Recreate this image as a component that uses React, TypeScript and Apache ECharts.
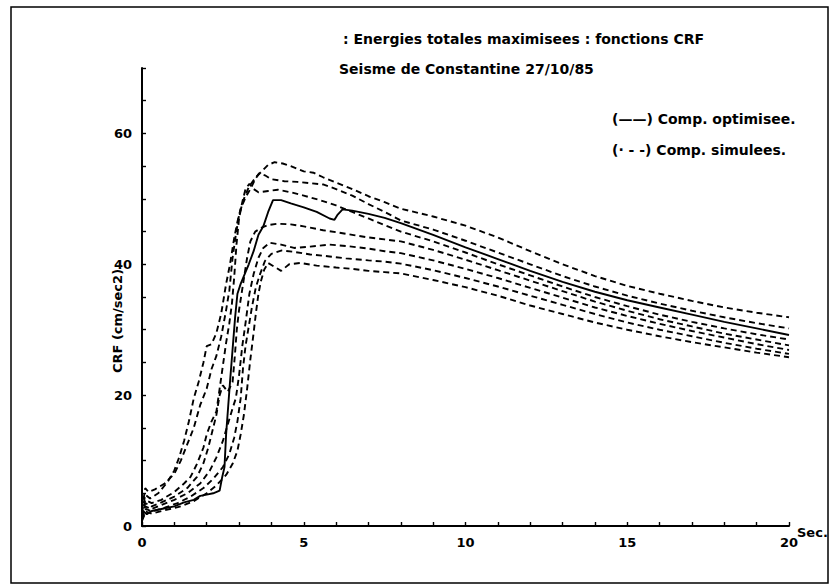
import React, { useEffect, useRef } from "react";
import * as echarts from "echarts";

type Pt = [number, number];

// Period (s) / CRF (cm/sec2) for the optimised component
const optimisee: Pt[] = [
  [0, 1.0], [0.05, 2.2], [0.15, 1.8], [0.3, 2.3], [0.6, 2.6], [1.0, 3.0], [1.3, 3.6], [1.6, 4.0],
  [1.8, 4.6], [2.0, 4.8], [2.2, 5.0], [2.4, 5.4], [2.48, 7.5], [2.55, 9.0], [2.6, 14], [2.66, 18],
  [2.72, 22], [2.8, 27], [2.88, 32], [2.95, 35.5], [3.05, 37], [3.2, 38.8], [3.3, 40], [3.45, 42],
  [3.6, 44.5], [3.75, 45.8], [3.9, 48], [4.05, 49.8], [4.3, 49.8], [4.6, 49.3], [5.0, 48.7],
  [5.4, 48.0], [5.8, 47.0], [5.95, 46.8], [6.05, 47.6], [6.2, 48.4], [6.5, 48.2], [7.0, 47.7],
  [7.5, 47.1], [8, 46.3], [9, 44.5], [10, 42.6], [11, 40.8], [12, 39.0], [13, 37.3], [14, 35.8],
  [15, 34.5], [16, 33.4], [17, 32.3], [18, 31.2], [19, 30.2], [20, 29.2],
];

// Simulated components
const simulee1: Pt[] = [
  [0, 2.5], [0.1, 5.8], [0.2, 5.2], [0.4, 5.6], [0.7, 6.5], [1.0, 8.0], [1.2, 10], [1.4, 12.5],
  [1.6, 15], [1.8, 18.5], [2.0, 21], [2.15, 24], [2.3, 26], [2.45, 29], [2.6, 33], [2.7, 36],
  [2.8, 41], [2.9, 44.5], [3.0, 47.5], [3.15, 50], [3.3, 51.8], [3.5, 53.2], [3.7, 54.2],
  [3.9, 55.2], [4.1, 55.6], [4.35, 55.4], [4.6, 55.0], [5.0, 54.2], [5.3, 54.0], [5.6, 53.3],
  [6.0, 52.5], [6.5, 51.5], [7.0, 50.4], [7.5, 49.5], [8, 48.5], [9, 47.3], [10, 45.9], [11, 44.1],
  [12, 42.0], [13, 40.0], [14, 38.2], [15, 36.7], [16, 35.5], [17, 34.4], [18, 33.4], [19, 32.6],
  [20, 31.9],
];

const simulee2: Pt[] = [
  [0, 2], [0.1, 4.8], [0.25, 4.2], [0.5, 5.0], [0.8, 6.8], [1.0, 8.5], [1.15, 10.5], [1.3, 13],
  [1.45, 16], [1.6, 19.5], [1.75, 22], [1.9, 25], [2.0, 27.5], [2.15, 27.8], [2.3, 29.5],
  [2.45, 32.5], [2.6, 37], [2.72, 40], [2.85, 44], [2.95, 46.5], [3.05, 48.5], [3.2, 50.2],
  [3.35, 51.5], [3.5, 53], [3.62, 53.9], [3.8, 53.6], [4.0, 53.0], [4.4, 52.7], [4.8, 52.6],
  [5.2, 52.4], [5.6, 52.2], [6.0, 51.5], [6.5, 50.5], [7.0, 49.2], [7.5, 48.0], [8, 46.7],
  [9, 45.3], [10, 43.6], [11, 41.8], [12, 40.0], [13, 38.2], [14, 36.6], [15, 35.2], [16, 34.0],
  [17, 32.9], [18, 31.9], [19, 31.0], [20, 30.2],
];

const simulee3: Pt[] = [
  [0, 1.5], [0.1, 4.0], [0.3, 3.5], [0.6, 4.0], [1.0, 5.2], [1.3, 6.5], [1.5, 7.5], [1.7, 9.5],
  [1.9, 12], [2.0, 14], [2.15, 16], [2.3, 17.5], [2.4, 21], [2.5, 24.5], [2.6, 28], [2.7, 31],
  [2.78, 34], [2.85, 38], [2.92, 43], [3.0, 47], [3.1, 49.5], [3.2, 51.5], [3.32, 52.3],
  [3.45, 51.5], [3.6, 51.0], [3.9, 51.2], [4.2, 51.4], [4.6, 51.0], [5.0, 50.5], [5.5, 49.8],
  [6.0, 49.0], [6.5, 48.0], [7.0, 47.0], [7.5, 46.0], [8, 45.0], [9, 43.5], [10, 41.8], [11, 40.0],
  [12, 38.3], [13, 36.6], [14, 35.0], [15, 33.6], [16, 32.3], [17, 31.2], [18, 30.2], [19, 29.3],
  [20, 28.5],
];

const simulee4: Pt[] = [
  [0, 1.5], [0.1, 3.5], [0.3, 3.0], [0.6, 3.6], [1.0, 4.5], [1.4, 5.8], [1.7, 7.5], [1.9, 9.6],
  [2.05, 12], [2.2, 15], [2.3, 17], [2.4, 20], [2.5, 21.5], [2.65, 20.5], [2.8, 22], [2.87, 26],
  [2.93, 30], [3.0, 33], [3.14, 37.5], [3.25, 41], [3.35, 43.5], [3.5, 45.0], [3.7, 45.6],
  [3.9, 46.0], [4.2, 46.2], [4.6, 46.1], [5.0, 45.8], [5.6, 45.2], [6.0, 44.9], [6.5, 44.5],
  [7.0, 44.1], [7.5, 43.8], [8, 43.5], [9, 42.2], [10, 40.7], [11, 39.1], [12, 37.5], [13, 35.9],
  [14, 34.3], [15, 32.9], [16, 31.6], [17, 30.5], [18, 29.4], [19, 28.5], [20, 27.6],
];

const simulee5: Pt[] = [
  [0, 1.2], [0.1, 3.0], [0.3, 2.6], [0.6, 3.2], [1.0, 4.0], [1.4, 5.0], [1.8, 6.5], [2.1, 8.5],
  [2.3, 10.5], [2.5, 13], [2.65, 15.5], [2.8, 18], [2.9, 19.5], [3.0, 23], [3.1, 27.5], [3.2, 31],
  [3.32, 35.5], [3.45, 38.5], [3.6, 41], [3.75, 42.5], [3.95, 43.3], [4.3, 43.0], [4.7, 42.5],
  [5.2, 42.7], [5.8, 43.0], [6.3, 42.8], [7.0, 42.4], [7.5, 42.0], [8, 41.7], [9, 40.6], [10, 39.3],
  [11, 37.9], [12, 36.4], [13, 34.9], [14, 33.4], [15, 32.1], [16, 30.9], [17, 29.8], [18, 28.8],
  [19, 27.8], [20, 26.9],
];

const simulee6: Pt[] = [
  [0, 1.0], [0.12, 2.6], [0.3, 2.2], [0.7, 2.8], [1.1, 3.5], [1.5, 4.5], [1.9, 5.8], [2.2, 7.2],
  [2.5, 9.0], [2.7, 11], [2.85, 13.5], [2.95, 16], [3.05, 19.5], [3.12, 24], [3.2, 27.5],
  [3.3, 30.5], [3.4, 33.5], [3.52, 36.5], [3.65, 38.5], [3.8, 40.5], [4.0, 41.6], [4.3, 42.1],
  [4.7, 41.9], [5.2, 41.5], [5.8, 41.2], [6.3, 40.9], [7.0, 40.6], [7.5, 40.4], [8, 40.1],
  [9, 39.1], [10, 37.9], [11, 36.6], [12, 35.2], [13, 33.8], [14, 32.4], [15, 31.1], [16, 30.0],
  [17, 29.0], [18, 28.0], [19, 27.1], [20, 26.3],
];

const simulee7: Pt[] = [
  [0, 0.8], [0.12, 2.2], [0.3, 1.9], [0.7, 2.4], [1.2, 3.0], [1.6, 3.8], [2.0, 5.0], [2.3, 6.2],
  [2.6, 7.8], [2.8, 9.5], [2.95, 11.5], [3.05, 14], [3.15, 17], [3.25, 21], [3.35, 25.5],
  [3.45, 29.5], [3.52, 32.5], [3.6, 35.5], [3.68, 37.5], [3.78, 39.2], [3.9, 40.2], [4.1, 39.6],
  [4.3, 39.0], [4.55, 40.0], [4.9, 40.2], [5.4, 39.8], [6.0, 39.5], [6.5, 39.3], [7.0, 39.0],
  [7.5, 38.8], [8, 38.6], [9, 37.6], [10, 36.5], [11, 35.2], [12, 33.7], [13, 32.4], [14, 31.1],
  [15, 30.0], [16, 29.0], [17, 28.1], [18, 27.3], [19, 26.5], [20, 25.8],
];

const simulees: Pt[][] = [simulee1, simulee2, simulee3, simulee4, simulee5, simulee6, simulee7];

const titleLines = [": Energies totales maximisees : fonctions CRF", "Seisme de Constantine 27/10/85"];
const legendLines = ["(\u2014\u2014) Comp. optimisee.", "(\u00b7 - -) Comp. simulees."];
const yName = "CRF (cm/sec2)";
const yLabelEvery = 20;
const xLabelEvery = 5;

const FONT = "DejaVu Sans";
const INK = "#000";

export default function App() {
  const ref = useRef<HTMLDivElement>(null);

  useEffect(() => {
    if (!ref.current) return;
    const chart = echarts.init(ref.current, undefined, { renderer: "svg" });

    const tickText = { color: INK, fontFamily: FONT, fontWeight: "bold" as const, fontSize: 13 };
    const bigText = { ...tickText, fontSize: 14 };

    const series: any[] = simulees.map((d, i) => ({
      name: `Comp. simulee ${i + 1}`,
      type: "line",
      data: d,
      showSymbol: false,
      lineStyle: { color: INK, width: 1.9, type: [6, 4] },
      z: 2,
    }));
    series.push({
      name: "Comp. optimisee",
      type: "line",
      data: optimisee,
      showSymbol: false,
      lineStyle: { color: INK, width: 1.9, type: "solid" },
      z: 3,
    });

    chart.setOption({
      animation: false,
      backgroundColor: "#fff",
      title: [
        { text: titleLines[0], left: 338, top: 27, textStyle: bigText },
        { text: titleLines[1], left: 334, top: 57, textStyle: bigText },
      ],
      grid: { left: 142, right: 49, top: 68, bottom: 61 },
      xAxis: {
        type: "value",
        min: 0,
        max: 20,
        interval: 1,
        splitLine: { show: false },
        axisLine: { lineStyle: { color: INK, width: 2 } },
        axisTick: { inside: true, length: 4, lineStyle: { color: INK, width: 1.4 } },
        axisLabel: {
          ...tickText,
          margin: 10,
          formatter: (v: number) => (v % xLabelEvery === 0 ? String(v) : ""),
        },
        name: "Sec.",
        nameLocation: "end",
        nameGap: 8,
        nameMoveOverlap: false,
        nameTextStyle: { ...tickText, verticalAlign: "top" },
      },
      yAxis: {
        type: "value",
        min: 0,
        max: 70,
        interval: 5,
        splitLine: { show: false },
        axisLine: { lineStyle: { color: INK, width: 2 } },
        axisTick: { inside: true, length: 4, lineStyle: { color: INK, width: 1.4 } },
        axisLabel: {
          ...tickText,
          margin: 10,
          formatter: (v: number) => (v % yLabelEvery === 0 ? String(v) : ""),
        },
      },
      graphic: [
        {
          type: "rect",
          shape: { x: 11, y: 7, width: 817, height: 576 },
          style: { fill: "none", stroke: INK, lineWidth: 1.5 },
          silent: true,
        },
        {
          type: "text",
          x: 117,
          y: 321,
          rotation: Math.PI / 2,
          style: {
            text: yName,
            fill: INK,
            font: `bold 13px "${FONT}"`,
            align: "center",
            verticalAlign: "middle",
          },
        },
        {
          type: "text",
          left: 612,
          top: 112,
          style: { text: legendLines[0], fill: INK, font: `bold 14px "${FONT}"` },
        },
        {
          type: "text",
          left: 612,
          top: 143,
          style: { text: legendLines[1], fill: INK, font: `bold 14px "${FONT}"` },
        },
      ],
      series,
    });

    return () => chart.dispose();
  }, []);

  return (
    <div
      ref={ref}
      style={{ position: "fixed", left: 0, top: 0, width: 838, height: 587, background: "#fff" }}
    />
  );
}
